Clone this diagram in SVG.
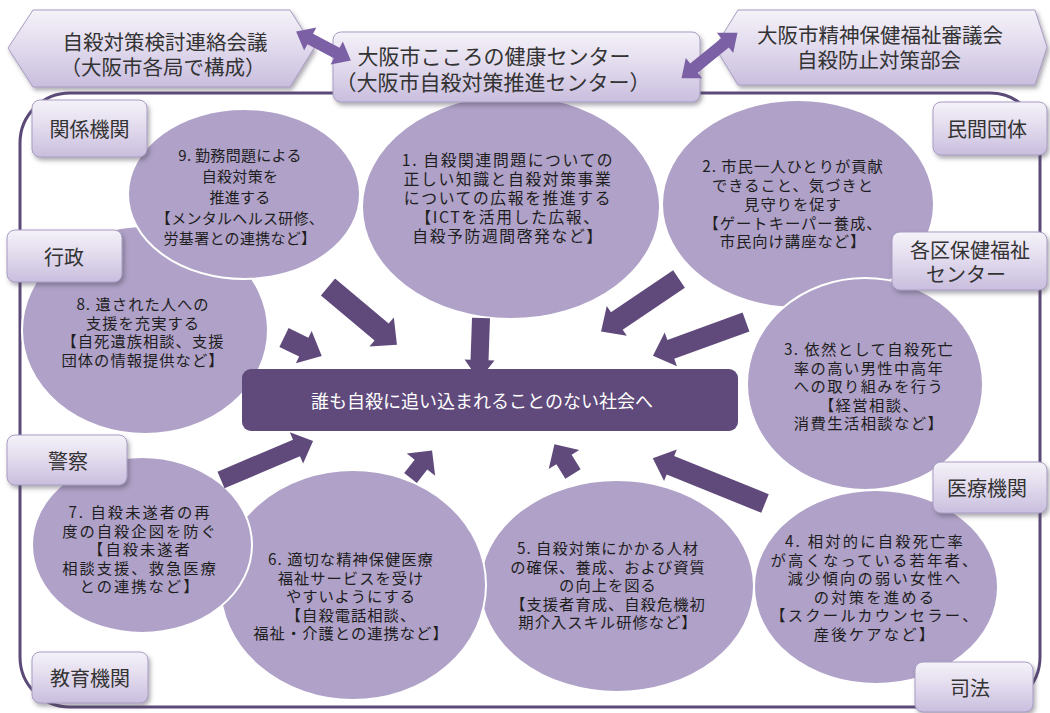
<svg xmlns="http://www.w3.org/2000/svg" width="1050" height="713" viewBox="0 0 1050 713">
<defs>
<linearGradient id="boxGrad" x1="0" y1="0" x2="0" y2="1">
<stop offset="0" stop-color="#f5f2f9"/>
<stop offset="0.45" stop-color="#e3dcee"/>
<stop offset="1" stop-color="#c9bede"/>
</linearGradient>
<filter id="shadow" x="-20%" y="-20%" width="150%" height="160%">
<feDropShadow dx="2" dy="3" stdDeviation="2" flood-color="#4a4455" flood-opacity="0.45"/>
</filter>
<style>
.frame{fill:none;stroke:#5b4a78;stroke-width:3}
.box{fill:url(#boxGrad);stroke:#a89cc2;stroke-width:1;filter:url(#shadow)}
.circ{fill:#afa1c7;stroke:#ffffff;stroke-width:2}
.arrow{fill:#604a7b}
.darrow{fill:#7b60a5}
.bar{fill:#604a7b}
.t{font-family:"Noto Sans CJK JP","Noto Sans",sans-serif;text-anchor:middle;dominant-baseline:central}
.ct{fill:#1e1e1e;font-size:15.3px;letter-spacing:1px}
.bt{fill:#333333;font-size:20px}
.tt{fill:#333333;font-size:20.5px}
.wt{fill:#ffffff;font-size:18px}
</style>
</defs>

<rect class="frame" x="20" y="93" width="1020" height="614" rx="50"/>

<g id="circle8"><ellipse class="circ" cx="145" cy="330" rx="123" ry="104"/>
<text class="t ct"><tspan x="143" y="303">8. 遺された人への</tspan><tspan x="143" y="321.5">支援を充実する</tspan><tspan x="143" y="340">【自死遺族相談、支援</tspan><tspan x="143" y="358.5">団体の情報提供など】</tspan></text></g>

<g id="circle9"><ellipse class="circ" cx="244" cy="194" rx="116" ry="85"/>
<text class="t ct" style="font-size:15px;letter-spacing:0.3px"><tspan x="240" y="154">9. 勤務問題による</tspan><tspan x="240" y="175">自殺対策を</tspan><tspan x="240" y="196">推進する</tspan><tspan x="240" y="217">【メンタルヘルス研修、</tspan><tspan x="240" y="237">労基署との連携など】</tspan></text></g>

<g id="circle1"><ellipse class="circ" cx="511" cy="207" rx="149" ry="112"/>
<text class="t ct" style="font-size:15.8px;letter-spacing:1.6px"><tspan x="508" y="159">1. 自殺関連問題についての</tspan><tspan x="508" y="178">正しい知識と自殺対策事業</tspan><tspan x="508" y="197">についての広報を推進する</tspan><tspan x="508" y="216">【ICTを活用した広報、</tspan><tspan x="508" y="235">自殺予防週間啓発など】</tspan></text></g>

<g id="circle2"><ellipse class="circ" cx="798" cy="204" rx="136" ry="104"/>
<text class="t ct"><tspan x="793" y="165">2. 市民一人ひとりが貢献</tspan><tspan x="793" y="184">できること、気づきと</tspan><tspan x="793" y="203">見守りを促す</tspan><tspan x="793" y="221.5">【ゲートキーパー養成、</tspan><tspan x="793" y="240">市民向け講座など】</tspan></text></g>

<g id="circle3"><ellipse class="circ" cx="865" cy="384" rx="118" ry="106"/>
<text class="t ct" style="letter-spacing:1.4px"><tspan x="869" y="348">3. 依然として自殺死亡</tspan><tspan x="869" y="366.5">率の高い男性中高年</tspan><tspan x="869" y="385">への取り組みを行う</tspan><tspan x="869" y="403.5">【経営相談、</tspan><tspan x="869" y="422">消費生活相談など】</tspan></text></g>

<g id="circle5"><ellipse class="circ" cx="617" cy="586" rx="137" ry="106"/>
<text class="t ct"><tspan x="608" y="547">5. 自殺対策にかかる人材</tspan><tspan x="608" y="565.5">の確保、養成、および資質</tspan><tspan x="608" y="584">の向上を図る</tspan><tspan x="608" y="602.5">【支援者育成、自殺危機初</tspan><tspan x="608" y="621">期介入スキル研修など】</tspan></text></g>

<g id="circle4"><ellipse class="circ" cx="876" cy="587" rx="122" ry="97"/>
<text class="t ct" style="letter-spacing:2.2px"><tspan x="875" y="540">4. 相対的に自殺死亡率</tspan><tspan x="875" y="558.5">が高くなっている若年者、</tspan><tspan x="875" y="577">減少傾向の弱い女性へ</tspan><tspan x="875" y="595.5">の対策を進める</tspan><tspan x="875" y="614">【スクールカウンセラー、</tspan><tspan x="875" y="632.5">産後ケアなど】</tspan></text></g>

<g id="circle6"><ellipse class="circ" cx="353" cy="585" rx="133" ry="115"/>
<text class="t ct"><tspan x="351" y="558">6. 適切な精神保健医療</tspan><tspan x="351" y="576.5">福祉サービスを受け</tspan><tspan x="351" y="595">やすいようにする</tspan><tspan x="351" y="613.5">【自殺電話相談、</tspan><tspan x="351" y="632">福祉・介護との連携など】</tspan></text></g>

<g id="circle7"><ellipse class="circ" cx="142" cy="545" rx="110" ry="88"/>
<text class="t ct" style="letter-spacing:2px"><tspan x="140" y="511">7. 自殺未遂者の再</tspan><tspan x="140" y="529.5">度の自殺企図を防ぐ</tspan><tspan x="140" y="548">【自殺未遂者</tspan><tspan x="140" y="566.5">相談支援、救急医療</tspan><tspan x="140" y="585">との連携など】</tspan></text></g>

<g id="connectors">
<path class="arrow" transform="translate(328,287) rotate(40)" d="M0,-11 L70,-11 L70,-19 L90,0 L70,19 L70,11 L0,11 Z"/>
<path class="arrow" transform="translate(284,337.5) rotate(26)" d="M0,-10.5 L22,-10.5 L22,-18 L42,0 L22,18 L22,10.5 L0,10.5 Z"/>
<path class="arrow" transform="translate(481,318) rotate(92)" d="M0,-9 L42,-9 L42,-15 L62,0 L42,15 L42,9 L0,9 Z"/>
<path class="arrow" transform="translate(221,480) rotate(-23)" d="M0,-9 L82,-9 L82,-17 L100,0 L82,17 L82,9 L0,9 Z"/>
<path class="arrow" transform="translate(410.5,478) rotate(-52)" d="M0,-8 L17,-8 L17,-18 L35,0 L17,18 L17,8 L0,8 Z"/>
<path class="arrow" transform="translate(573,474) rotate(-122)" d="M0,-9 L17,-9 L17,-18 L35,0 L17,18 L17,9 L0,9 Z"/>
<path class="arrow" transform="translate(765,503.5) rotate(-158)" d="M0,-10 L102,-10 L102,-17 L121,0 L102,17 L102,10 L0,10 Z"/>
<path class="arrow" transform="translate(679,279) rotate(146)" d="M0,-10.5 L75,-10.5 L75,-18 L94,0 L75,18 L75,10.5 L0,10.5 Z"/>
<path class="arrow" transform="translate(746,322) rotate(160)" d="M0,-10 L80,-10 L80,-18 L99,0 L80,18 L80,10 L0,10 Z"/>
</g>

<g id="goal"><rect class="bar" x="242" y="369" width="496" height="62" rx="9"/>
<text class="t wt" x="482" y="400">誰も自殺に追い込まれることのない社会へ</text></g>

<g id="hexLeft"><polygon class="box" points="8,48 33,10 290,10 314,48 290,87 33,87"/>
<text class="t tt"><tspan x="165" y="41">自殺対策検討連絡会議</tspan><tspan x="163" y="66">（大阪市各局で構成）</tspan></text></g>

<g id="hexRight"><polygon class="box" points="715,47 738,10 1035,10 1047,47 1035,85 738,85"/>
<text class="t tt"><tspan x="880" y="34">大阪市精神保健福祉審議会</tspan><tspan x="879" y="59">自殺防止対策部会</tspan></text></g>

<g id="center"><rect class="box" x="333" y="32" width="367" height="70" rx="8"/>
<text class="t tt" style="font-size:21px"><tspan x="494" y="55">大阪市こころの健康センター</tspan><tspan x="493" y="81">（大阪市自殺対策推進センター）</tspan></text></g>

<g id="connectors-top">
<path class="darrow" transform="translate(323.5,46) rotate(28)" d="M-31,0 L-15,-13 L-15,-6 L15,-6 L15,-13 L31,0 L15,13 L15,6 L-15,6 L-15,13 Z"/>
<path class="darrow" transform="translate(709.5,55.5) rotate(-39)" d="M-36,0 L-20,-13 L-20,-6 L20,-6 L20,-13 L36,0 L20,13 L20,6 L-20,6 L-20,13 Z"/>
</g>

<g id="kankei"><rect class="box" x="32" y="100" width="115" height="57" rx="8"/><text class="t bt" x="89.5" y="128">関係機関</text></g>
<g id="gyosei"><rect class="box" x="7" y="230" width="115" height="52" rx="8"/><text class="t bt" x="64" y="256">行政</text></g>
<g id="keisatsu"><rect class="box" x="7" y="435" width="120" height="50" rx="8"/><text class="t bt" x="68" y="460">警察</text></g>
<g id="kyoiku"><rect class="box" x="32" y="652" width="116" height="51" rx="8"/><text class="t bt" x="90" y="677">教育機関</text></g>
<g id="minkan"><rect class="box" x="933" y="102" width="114" height="53" rx="8"/><text class="t bt" x="987" y="128">民間団体</text></g>
<g id="kakuku"><rect class="box" x="892" y="232" width="155" height="58" rx="8"/><text class="t bt"><tspan x="970" y="249">各区保健福祉</tspan><tspan x="966" y="273">センター</tspan></text></g>
<g id="iryo"><rect class="box" x="933" y="462" width="114" height="51" rx="8"/><text class="t bt" x="987" y="487">医療機関</text></g>
<g id="shiho"><rect class="box" x="915" y="662" width="118" height="50" rx="8"/><text class="t bt" x="970" y="687">司法</text></g>
</svg>
